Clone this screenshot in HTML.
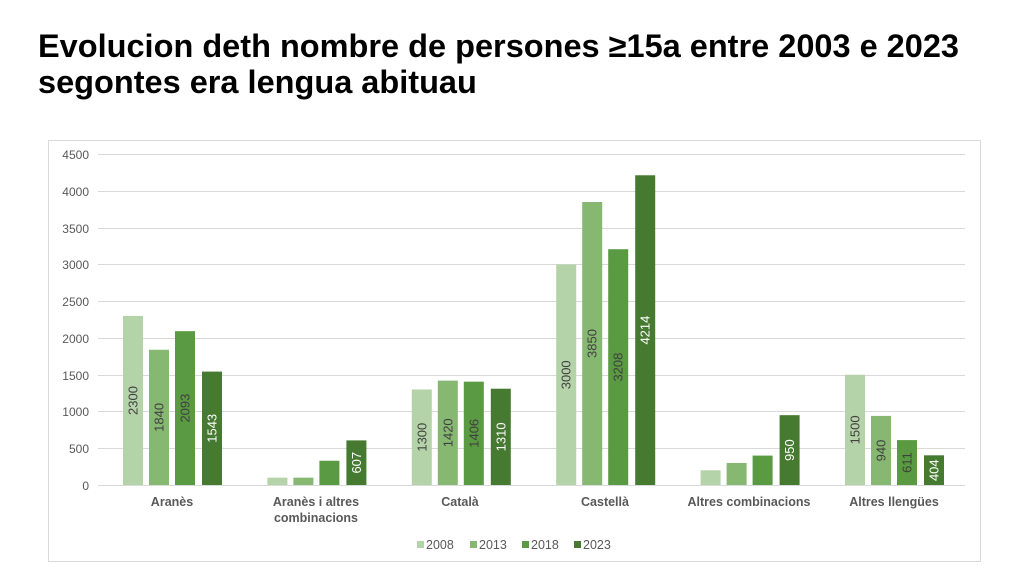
<!DOCTYPE html>
<html><head><meta charset="utf-8"><style>
body{margin:0;background:#fff;width:1024px;height:574px;overflow:hidden;font-family:"Liberation Sans",Arial,sans-serif}
</style></head><body>
<svg width="1024" height="574" xmlns="http://www.w3.org/2000/svg" font-family="Liberation Sans, Arial, sans-serif">
<text x="38" y="57" font-size="32.5" font-weight="bold" fill="#000">Evolucion deth nombre de persones ≥15a entre 2003 e 2023</text>
<text x="38" y="93" font-size="32.5" font-weight="bold" fill="#000">segontes era lengua abituau</text>
<rect x="48.5" y="140.5" width="932" height="421" fill="#fff" stroke="#d9d9d9"/>
<g stroke="#d9d9d9" stroke-width="1">
<line x1="98" x2="965" y1="154.5" y2="154.5"/><line x1="98" x2="965" y1="191.5" y2="191.5"/>
<line x1="98" x2="965" y1="228.5" y2="228.5"/><line x1="98" x2="965" y1="264.5" y2="264.5"/>
<line x1="98" x2="965" y1="301.5" y2="301.5"/><line x1="98" x2="965" y1="338.5" y2="338.5"/>
<line x1="98" x2="965" y1="375.5" y2="375.5"/><line x1="98" x2="965" y1="411.5" y2="411.5"/>
<line x1="98" x2="965" y1="448.5" y2="448.5"/><line x1="98" x2="965" y1="485.5" y2="485.5"/>
</g>
<g font-size="12" fill="#595959" text-anchor="end">
<text x="89" y="159">4500</text><text x="89" y="196">4000</text><text x="89" y="233">3500</text>
<text x="89" y="269">3000</text><text x="89" y="306">2500</text><text x="89" y="343">2000</text>
<text x="89" y="380">1500</text><text x="89" y="416">1000</text><text x="89" y="453">500</text><text x="89" y="490">0</text>
</g>
<g>
<rect x="123" y="315.95" width="20" height="169.05" fill="#b5d3a8"/>
<rect x="149" y="349.76" width="20" height="135.24" fill="#86b872"/>
<rect x="175" y="331.16" width="20" height="153.84" fill="#5a9a42"/>
<rect x="202" y="371.59" width="20" height="113.41" fill="#467a30"/>

<rect x="267.4" y="477.65" width="20" height="7.35" fill="#b5d3a8"/>
<rect x="293.4" y="477.65" width="20" height="7.35" fill="#86b872"/>
<rect x="319.4" y="460.74" width="20" height="24.26" fill="#5a9a42"/>
<rect x="346.4" y="440.39" width="20" height="44.61" fill="#467a30"/>

<rect x="411.8" y="389.45" width="20" height="95.55" fill="#b5d3a8"/>
<rect x="437.8" y="380.63" width="20" height="104.37" fill="#86b872"/>
<rect x="463.8" y="381.66" width="20" height="103.34" fill="#5a9a42"/>
<rect x="490.8" y="388.71" width="20" height="96.29" fill="#467a30"/>

<rect x="556.2" y="264.5" width="20" height="220.5" fill="#b5d3a8"/>
<rect x="582.2" y="202.02" width="20" height="282.98" fill="#86b872"/>
<rect x="608.2" y="249.21" width="20" height="235.79" fill="#5a9a42"/>
<rect x="635.2" y="175.27" width="20" height="309.73" fill="#467a30"/>

<rect x="700.6" y="470.3" width="20" height="14.7" fill="#b5d3a8"/>
<rect x="726.6" y="462.95" width="20" height="22.05" fill="#86b872"/>
<rect x="752.6" y="455.6" width="20" height="29.4" fill="#5a9a42"/>
<rect x="779.6" y="415.17" width="20" height="69.83" fill="#467a30"/>

<rect x="845" y="374.75" width="20" height="110.25" fill="#b5d3a8"/>
<rect x="871" y="415.91" width="20" height="69.09" fill="#86b872"/>
<rect x="897" y="440.09" width="20" height="44.91" fill="#5a9a42"/>
<rect x="924" y="455.31" width="20" height="29.69" fill="#467a30"/>
</g>
<g font-size="13" text-anchor="middle" fill="#404040">
<text transform="translate(137.5,400.5) rotate(-90)">2300</text>
<text transform="translate(163.5,417.4) rotate(-90)">1840</text>
<text transform="translate(189.5,408.1) rotate(-90)">2093</text>
<text transform="translate(216.5,428.3) rotate(-90)" fill="#fff">1543</text>
<text transform="translate(360.9,462.7) rotate(-90)" fill="#fff">607</text>
<text transform="translate(426.3,437.2) rotate(-90)">1300</text>
<text transform="translate(452.3,432.8) rotate(-90)">1420</text>
<text transform="translate(478.3,433.3) rotate(-90)">1406</text>
<text transform="translate(505.3,436.9) rotate(-90)" fill="#fff">1310</text>
<text transform="translate(570.7,374.8) rotate(-90)">3000</text>
<text transform="translate(596.7,343.5) rotate(-90)">3850</text>
<text transform="translate(622.7,367.1) rotate(-90)">3208</text>
<text transform="translate(649.7,330.1) rotate(-90)" fill="#fff">4214</text>
<text transform="translate(794.1,450.1) rotate(-90)" fill="#fff">950</text>
<text transform="translate(859.5,429.9) rotate(-90)">1500</text>
<text transform="translate(885.5,450.5) rotate(-90)">940</text>
<text transform="translate(911.5,462.5) rotate(-90)">611</text>
<text transform="translate(938.5,470.2) rotate(-90)" fill="#fff">404</text>
</g>
<g font-size="12.5" font-weight="bold" fill="#595959" text-anchor="middle">
<text x="172" y="506">Aranès</text>
<text x="316" y="506">Aranès i altres</text><text x="316" y="522">combinacions</text>
<text x="460" y="506">Català</text>
<text x="605" y="506">Castellà</text>
<text x="749" y="506">Altres combinacions</text>
<text x="894" y="506">Altres llengües</text>
</g>
<g font-size="12.5" fill="#595959">
<rect x="417" y="541" width="7" height="7" fill="#b5d3a8"/><text x="426" y="549">2008</text>
<rect x="470" y="541" width="7" height="7" fill="#86b872"/><text x="479" y="549">2013</text>
<rect x="522" y="541" width="7" height="7" fill="#5a9a42"/><text x="531" y="549">2018</text>
<rect x="574" y="541" width="7" height="7" fill="#467a30"/><text x="583" y="549">2023</text>
</g>
</svg>
</body></html>
